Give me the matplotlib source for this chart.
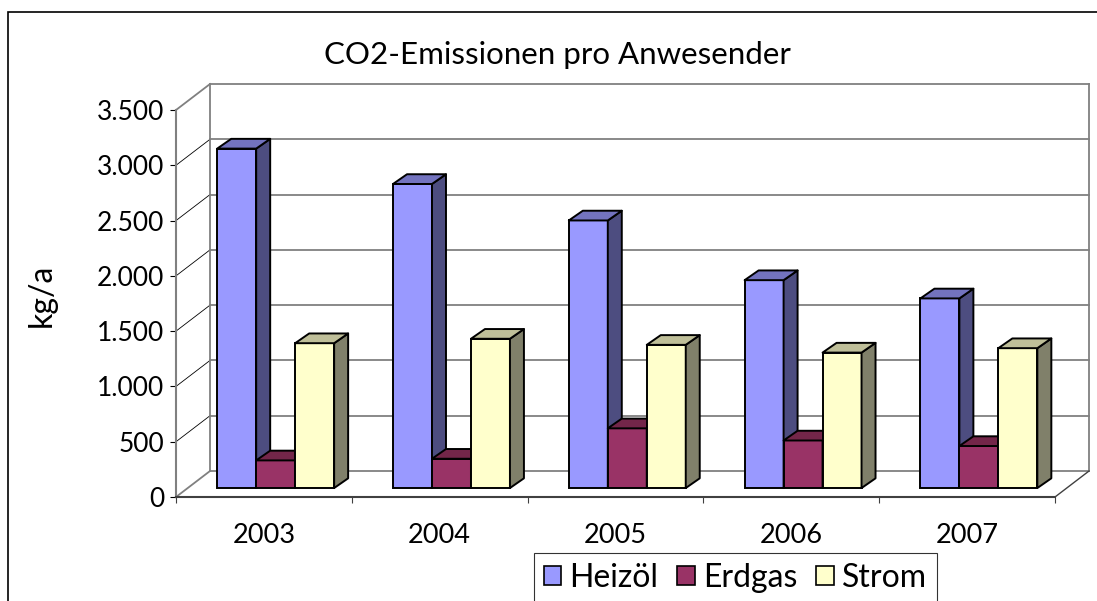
import matplotlib
matplotlib.use("Agg")
import matplotlib.pyplot as plt
from matplotlib.patches import Patch, Rectangle
from matplotlib.collections import PolyCollection
from matplotlib.ticker import FuncFormatter

plt.rcParams['font.family'] = ['Lato', 'DejaVu Sans']

# Daten
jahre = ['2003', '2004', '2005', '2006', '2007']
heizoel = [3070, 2750, 2420, 1880, 1715]
erdgas = [250, 265, 540, 430, 380]
strom = [1310, 1350, 1295, 1225, 1265]
reihen = ['Heizöl', 'Erdgas', 'Strom']
werte = [heizoel, erdgas, strom]

# Farben: Vorderseite, Seite, Deckel
farben = [('#9999FF', '#4D4D80', '#7373BF'),
          ('#993366', '#4D1A33', '#732649'),
          ('#FFFFCC', '#80806A', '#BFBF99')]

ymax = 3500
n = len(jahre)

# 3D-Verschiebungen in Datenkoordinaten
wand_dx, wand_dy = 0.1934, 235     # Tiefe der Wände
bar_fx, bar_fy = 0.067, 81         # Lage der Balkenfront
bar_dx, bar_dy = 0.0796, 88        # Tiefe der Balken
breite = 0.2217
luecke = (1 - 3 * breite) / 2

fig = plt.figure(figsize=(10.97, 6.01), dpi=100)
ax = fig.add_axes([176 / 1097, 1 - 497 / 601, 879 / 1097, 387 / 601])
ax.set_xlim(0, n)
ax.set_ylim(0, ymax)

grau = '#808080'
# Rückwand + Gitter
ticks = list(range(0, ymax + 1, 500))
for v in ticks:
    ax.plot([wand_dx, n + wand_dx], [v + wand_dy, v + wand_dy], color=grau, lw=1.3,
            clip_on=False, zorder=1)
    if v in (0, ymax):
        ax.plot([0, wand_dx], [v, v + wand_dy], color=grau, lw=1.3, clip_on=False, zorder=1)
    else:
        ax.plot([0, wand_dx], [v, v + wand_dy], color='black', lw=0.6, clip_on=False, zorder=1)
ax.plot([wand_dx, wand_dx], [wand_dy, ymax + wand_dy], color=grau, lw=1.3, clip_on=False, zorder=1)
ax.plot([n + wand_dx, n + wand_dx], [wand_dy, ymax + wand_dy], color=grau, lw=1.3,
        clip_on=False, zorder=1)
ax.plot([n, n + wand_dx], [0, wand_dy], color='#404040', lw=1.0, clip_on=False, zorder=1)

# Balken
for j, (name, vals) in enumerate(zip(reihen, werte)):
    front, seite, deckel = farben[j]
    xs = [i + luecke + j * breite + bar_fx for i in range(n)]
    ax.bar(xs, vals, width=breite, bottom=bar_fy, align='edge', color=front,
           edgecolor='black', linewidth=1.4, zorder=3 + j, clip_on=False)
    seiten = []
    deckel_p = []
    for x, v in zip(xs, vals):
        xr = x + breite
        top = bar_fy + v
        seiten.append([(xr, bar_fy), (xr + bar_dx, bar_fy + bar_dy),
                       (xr + bar_dx, top + bar_dy), (xr, top)])
        deckel_p.append([(x, top), (xr, top), (xr + bar_dx, top + bar_dy),
                         (x + bar_dx, top + bar_dy)])
    ax.add_collection(PolyCollection(seiten, facecolors=seite, edgecolors='black',
                                     linewidths=1.4, zorder=3 + j, clip_on=False))
    ax.add_collection(PolyCollection(deckel_p, facecolors=deckel, edgecolors='black',
                                     linewidths=1.4, zorder=3 + j, clip_on=False))

# Achsen
for s in ('top', 'right'):
    ax.spines[s].set_visible(False)
ax.spines['left'].set_color(grau)
ax.spines['left'].set_linewidth(1.5)
ax.spines['bottom'].set_color('#404040')
ax.spines['bottom'].set_linewidth(1.5)
ax.set_facecolor('none')

ax.set_yticks(ticks)
ax.yaxis.set_major_formatter(FuncFormatter(lambda v, p: f"{int(v):,}".replace(',', '.')))
ax.set_xticks([i + 0.5 for i in range(n)])
ax.set_xticklabels(jahre)
ax.set_xticks(range(n + 1), minor=True)
ax.tick_params(axis='y', direction='out', length=4.5, width=0.8, color='black',
               labelsize=19, pad=4)
ax.tick_params(axis='x', which='major', length=0, labelsize=19.5, pad=19)
ax.tick_params(axis='x', which='minor', direction='out', length=4.5, width=0.8, color='#404040')

ax.set_ylabel('kg/a', fontsize=23)
ax.yaxis.set_label_coords(-0.136, 0.52)

fig.text(557 / 1097, 1 - 55 / 601, 'CO2-Emissionen pro Anwesender', fontsize=22.5,
         ha='center', va='center')

# Legende
griffe = [Patch(facecolor=f[0], edgecolor='black', linewidth=1.2) for f in farben]
leg = fig.legend(griffe, reihen, loc='upper left', bbox_to_anchor=(534 / 1097, 1 - 553 / 601),
                 ncol=3, fontsize=23, frameon=True, fancybox=False, handlelength=0.55,
                 handleheight=0.55, handletextpad=0.25, columnspacing=0.6, borderpad=0.3,
                 borderaxespad=0)
leg.get_frame().set_edgecolor('black')
leg.get_frame().set_linewidth(0.8)

# Rahmen um das Diagramm
fig.add_artist(Rectangle((8 / 1097, -0.1), 1.2, 1.1 - 12 / 601, transform=fig.transFigure,
                         fill=False, edgecolor='black', linewidth=1.2))

fig.savefig('out.png', dpi=100)
